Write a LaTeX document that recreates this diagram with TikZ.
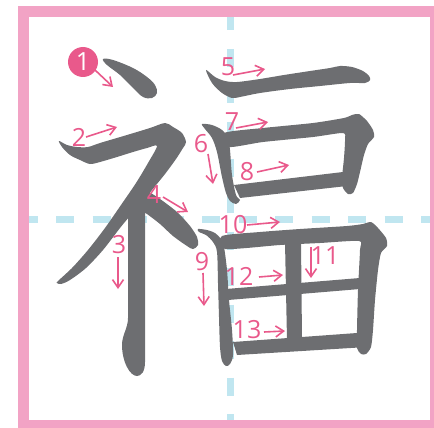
\documentclass[tikz,border=0pt]{standalone}
\usepackage{fontspec}
\setmainfont{Open Sans}
\usetikzlibrary{arrows.meta}
\definecolor{ink}{HTML}{6D6E71}
\definecolor{lab}{HTML}{E9598B}
\definecolor{frm}{HTML}{F2A3C5}
\definecolor{dsh}{HTML}{C0E6F0}
\begin{document}
\begin{tikzpicture}[x=1pt,y=-1pt,
  stk/.style={fill=ink,draw=none},
  arr/.style={draw=lab,line width=1.6pt,-{Straight Barb[length=8pt,width=11pt]}},
  lbl/.style={text=lab,font=\fontsize{25}{25}\selectfont,inner sep=0pt},
  guide/.style={draw=dsh,line width=7pt,dash pattern=on 18pt off 18.5pt}]
\useasboundingbox (0,0) rectangle (434,428);
\clip (0,0) rectangle (434,428);
% guides
\draw[guide] (230.5,12.5) -- (230.5,430);
\draw[guide] (19.5,219.5) -- (436,219.5);
% frame
\draw[frm,line width=11pt] (23.5,11.5) rectangle (435.5,425.5);
% strokes
\fill[stk] plot[smooth cycle,tension=0.6] coordinates {(103,59) (113,60) (133,68) (147,77) (155,85) (157,93) (152,98) (143,97) (133,88) (120,75) (107,65)};
\fill[stk] plot[smooth cycle,tension=0.5] coordinates {(59,141) (67,145) (77,147) (88,147) (100,143) (127,135) (150,128) (165,123) (173,127) (182,133) (186,142) (183,148) (176,159) (165,174) (152,190) (140,205) (130,216) (120,228) (103,250) (86,268) (70,280) (61,284) (57,283) (58,281) (72,268) (88,250) (105,228) (121,205) (136,183) (148,163) (157,146) (147,148) (133,152) (117,157) (100,162) (90,164) (80,160) (70,155) (62,147)};
\fill[stk] (128,200) -- (145,200) -- (145,362) .. controls (145,372) and (141,376) .. (137,376) .. controls (130,376) and (122,362) .. (122,345) .. controls (122,335) and (128,328) .. (128,318) -- cycle;
\fill[stk] plot[smooth cycle,tension=0.5] coordinates {(142,192) (147,191) (160,199) (177,212) (190,226) (197,237) (198,245) (193,249) (187,246) (173,236) (160,224) (147,214) (138,208)};
\fill[stk] plot[smooth cycle,tension=0.5] coordinates {(206,70) (215,77) (225,81) (237,82) (260,79) (284,75) (310,71) (330,68) (340,66) (352,67) (363,71) (369,76) (370,80) (365,83) (350,83) (320,86) (290,89) (260,93) (240,97) (232,98) (222,93) (212,83)};
\fill[stk] plot[smooth cycle,tension=0.5] coordinates {(202,124) (212,125) (222,130) (228,138) (230,150) (232,175) (236,195) (240,200) (236,204) (230,201) (226,193) (222,177) (217,152) (212,138) (205,129)};
\fill[stk] plot[smooth cycle,tension=0.4] coordinates {(224,133) (263,128) (313,123) (344,118) (352,115) (359,114) (367,121) (373,130) (374,137) (368,144) (364,155) (360,172) (357,184) (353,193) (348,194) (343,188) (342,178) (344,158) (345,140) (343,133) (313,137) (263,142) (228,147)};
\fill[stk] (234,185) -- (343,172) -- (347,186) -- (240,198) -- cycle;
\fill[stk] plot[smooth cycle,tension=0.5] coordinates {(198,229) (207,230) (215,233) (221,239) (224,247) (227,270) (229,300) (232,330) (233,355) (230,364) (226,366) (222,361) (220,347) (219,317) (218,283) (217,252) (213,242) (206,235) (199,232)};
\fill[stk] plot[smooth cycle,tension=0.4] coordinates {(222,236) (260,232) (300,229) (347,226) (363,224) (371,222) (378,228) (386,238) (387,246) (381,253) (378,270) (375,300) (373,330) (371,347) (366,354) (361,354) (357,348) (357,330) (358,290) (360,250) (359,241) (320,243) (280,245) (225,249)};
\fill[stk] (285,242) -- (301,241) -- (302,339) -- (287,340) -- cycle;
\fill[stk] (226,289) -- (360,278) -- (360,289) -- (228,300) -- cycle;
\fill[stk] (233,342) -- (357,333) -- (367,347) -- (237,355) -- cycle;
% labels
\node[circle,fill=lab,minimum size=30pt,inner sep=0pt,text=white,font=\fontsize{25}{25}\selectfont] (n1) at (83,62) {1};
\node[lbl] (n2) at (79,137) {2};
\node[lbl] (n3) at (119,245) {3};
\node[lbl] (n4) at (154,195) {4};
\node[lbl] (n5) at (228,66.5) {5};
\node[lbl] (n6) at (201,144) {6};
\node[lbl] (n7) at (232,122) {7};
\node[lbl] (n8) at (247,172) {8};
\node[lbl] (n9) at (202,262) {9};
\node[lbl] (n10) at (233,225) {10};
\node[lbl] (n11) at (325,256) {11};
\node[lbl] (n12) at (239,276) {12};
\node[lbl] (n13) at (247,330) {13};
% arrows
\draw[arr] (95,70) coordinate (a1s) -- (113,87) coordinate (a1e);
\draw[arr] (86,137) coordinate (a2s) -- (117,127) coordinate (a2e);
\draw[arr] (118,257) coordinate (a3s) -- (118,289) coordinate (a3e);
\draw[arr] (163,197) coordinate (a4s) -- (188,212) coordinate (a4e);
\draw[arr] (233,75) coordinate (a5s) -- (265,69) coordinate (a5e);
\draw[arr] (208,154) coordinate (a6s) -- (213,184) coordinate (a6e);
\draw[arr] (236,128) coordinate (a7s) -- (268,122) coordinate (a7e);
\draw[arr] (257,172) coordinate (a8s) -- (289,165) coordinate (a8e);
\draw[arr] (203,273) coordinate (a9s) -- (204,306) coordinate (a9e);
\draw[arr] (247,225) coordinate (a10s) -- (280,222) coordinate (a10e);
\draw[arr] (311,247) coordinate (a11s) -- (311,278) coordinate (a11e);
\draw[arr] (259,277) coordinate (a12s) -- (283,275) coordinate (a12e);
\draw[arr] (264,332) coordinate (a13s) -- (285,331) coordinate (a13e);
\end{tikzpicture}
\end{document}
